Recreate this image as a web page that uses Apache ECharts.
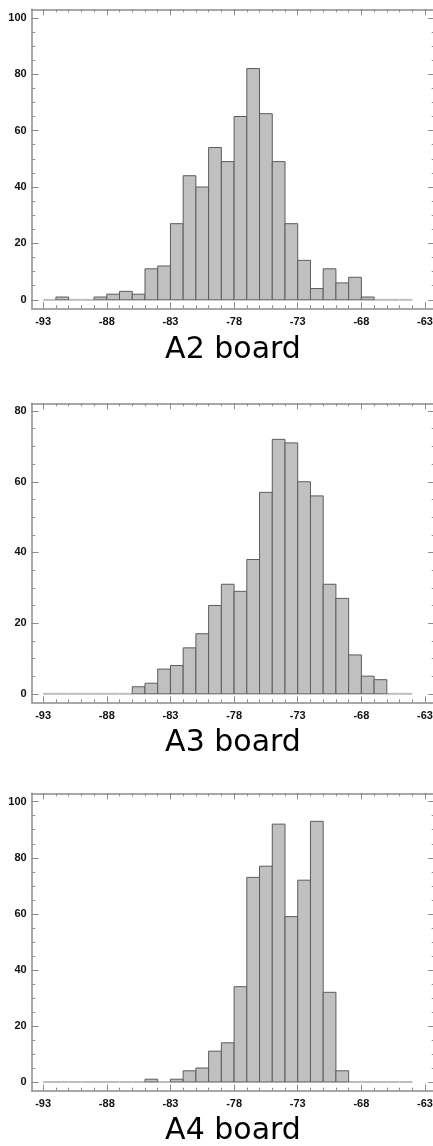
<!DOCTYPE html>
<html><head><meta charset="utf-8">
<script src="https://cdn.jsdelivr.net/npm/echarts@6/dist/echarts.min.js"></script>
<style>html,body{margin:0;padding:0;overflow:hidden;background:#fff;width:433px;height:1146px}#c{width:440px;height:1146px}</style>
</head><body><div id="c"></div><script>
// histogram bin left edges (bin width 1 dB)
const binStarts = [-93,-92,-91,-90,-89,-88,-87,-86,-85,-84,-83,-82,-81,-80,-79,-78,-77,-76,-75,-74,-73,-72,-71,-70,-69,-68,-67,-66,-65];
const binWidth = 1;
const countsA2 = [0,1,0,0,1,2,3,2,11,12,27,44,40,54,49,65,82,66,49,27,14,4,11,6,8,1,0,0,0];
const countsA3 = [0,0,0,0,0,0,0,2,3,7,8,13,17,25,31,29,38,57,72,71,60,56,31,27,11,5,4,0,0];
const countsA4 = [0,0,0,0,0,0,0,0,1,0,1,4,5,11,14,34,73,77,92,59,72,93,32,4,0,0,0,0,0];
const boardTitles = ['A2 board','A3 board','A4 board'];
const xTickLabels = [-93,-88,-83,-78,-73,-68,-63];
const xMinorTicks = [-93,-92,-91,-90,-89,-88,-87,-86,-85,-84,-83,-82,-81,-80,-79,-78,-77,-76,-75,-74,-73,-72,-71,-70,-69,-68,-67,-66,-65,-64,-63];
const yTickLabels100 = [0,20,40,60,80,100];
const yTickLabels80 = [0,20,40,60,80];
const yMinorTicks100 = [0,5,10,15,20,25,30,35,40,45,50,55,60,65,70,75,80,85,90,95,100];
const yMinorTicks80 = [0,5,10,15,20,25,30,35,40,45,50,55,60,65,70,75,80];

const panels = [
  {counts: countsA2, title: boardTitles[0], top: 9.3, height: 299, ymin: -3, ymax: 103, yLabels: yTickLabels100, yMinor: yMinorTicks100, titleY: 350},
  {counts: countsA3, title: boardTitles[1], top: 403.3, height: 299, ymin: -2.4, ymax: 82.2, yLabels: yTickLabels80, yMinor: yMinorTicks80, titleY: 743.5},
  {counts: countsA4, title: boardTitles[2], top: 793.3, height: 297.4, ymin: -3.1, ymax: 103, yLabels: yTickLabels100, yMinor: yMinorTicks100, titleY: 1131.6}
];

const frameColor = '#8c8c8c';
const labelStyle = {color: '#111', fontWeight: 'bold', fontSize: 11, fontFamily: 'Liberation Sans, Arial, sans-serif'};
const XMIN = -93.9, XMAX = -62.2;

const grids = [], xAxes = [], yAxes = [], series = [], graphics = [];

function renderHist(params, api) {
  const x0 = api.value(0), v = api.value(1);
  const p0 = api.coord([x0, 0]);
  const p1 = api.coord([x0 + binWidth, v]);
  if (v === 0) {
    return {type: 'line', z2: 1, shape: {x1: p0[0], y1: p0[1], x2: p1[0], y2: p0[1]}, style: {stroke: '#bdbdbd', lineWidth: 2}};
  }
  return {type: 'rect', z2: 5, shape: {x: p0[0], y: p1[1], width: p1[0] - p0[0], height: p0[1] - p1[1]},
          style: {fill: '#c0c0c0', stroke: '#5c5c5c', lineWidth: 1}};
}

panels.forEach((p, gi) => {
  grids.push({left: 31.7, width: 403.5, top: p.top, height: p.height, containLabel: false});
  const base = {gridIndex: gi, type: 'value', min: XMIN, max: XMAX, splitLine: {show: false}};
  const xi = xAxes.length;
  xAxes.push(Object.assign({}, base, {position: 'bottom',
    axisLine: {show: true, onZero: false, lineStyle: {color: frameColor, width: 1.5}},
    axisTick: {show: true, inside: true, length: 6, customValues: xTickLabels, lineStyle: {color: frameColor}},
    axisLabel: {show: true, margin: 8, customValues: xTickLabels, ...labelStyle}}));
  xAxes.push(Object.assign({}, base, {position: 'bottom',
    axisLine: {show: false, onZero: false},
    axisTick: {show: true, inside: true, length: 3, customValues: xMinorTicks, lineStyle: {color: frameColor}},
    axisLabel: {show: false}}));
  xAxes.push(Object.assign({}, base, {position: 'top',
    axisLine: {show: true, onZero: false, lineStyle: {color: frameColor, width: 1.5}},
    axisTick: {show: true, inside: true, length: 6, customValues: xTickLabels, lineStyle: {color: frameColor}},
    axisLabel: {show: false}}));
  xAxes.push(Object.assign({}, base, {position: 'top',
    axisLine: {show: false, onZero: false},
    axisTick: {show: true, inside: true, length: 3, customValues: xMinorTicks, lineStyle: {color: frameColor}},
    axisLabel: {show: false}}));

  const ybase = {gridIndex: gi, type: 'value', min: p.ymin, max: p.ymax, splitLine: {show: false}};
  const yi = yAxes.length;
  yAxes.push(Object.assign({}, ybase, {position: 'left',
    axisLine: {show: true, onZero: false, lineStyle: {color: frameColor, width: 1.5}},
    axisTick: {show: true, inside: true, length: 7, customValues: p.yLabels, lineStyle: {color: frameColor}},
    axisLabel: {show: true, margin: 5, customValues: p.yLabels, ...labelStyle}}));
  yAxes.push(Object.assign({}, ybase, {position: 'left',
    axisLine: {show: false, onZero: false},
    axisTick: {show: true, inside: true, length: 3.5, customValues: p.yMinor, lineStyle: {color: frameColor}},
    axisLabel: {show: false}}));
  yAxes.push(Object.assign({}, ybase, {position: 'right',
    axisLine: {show: true, onZero: false, lineStyle: {color: frameColor, width: 1.5}},
    axisTick: {show: true, inside: true, length: 7, customValues: p.yLabels, lineStyle: {color: frameColor}},
    axisLabel: {show: false}}));
  yAxes.push(Object.assign({}, ybase, {position: 'right',
    axisLine: {show: false, onZero: false},
    axisTick: {show: true, inside: true, length: 3.5, customValues: p.yMinor, lineStyle: {color: frameColor}},
    axisLabel: {show: false}}));

  series.push({type: 'custom', xAxisIndex: xi, yAxisIndex: yi, renderItem: renderHist, clip: false,
    data: binStarts.map((b, i) => [b, p.counts[i]]), silent: true});

  graphics.push({type: 'text', x: 233, y: p.titleY,
    style: {text: p.title, font: '30px "DejaVu Sans"', fill: '#000', textAlign: 'center', textVerticalAlign: 'middle'}});
});

const chart = echarts.init(document.getElementById('c'), null, {renderer: 'canvas'});
chart.setOption({animation: false, grid: grids, xAxis: xAxes, yAxis: yAxes, series: series, graphic: graphics});
</script></body></html>
